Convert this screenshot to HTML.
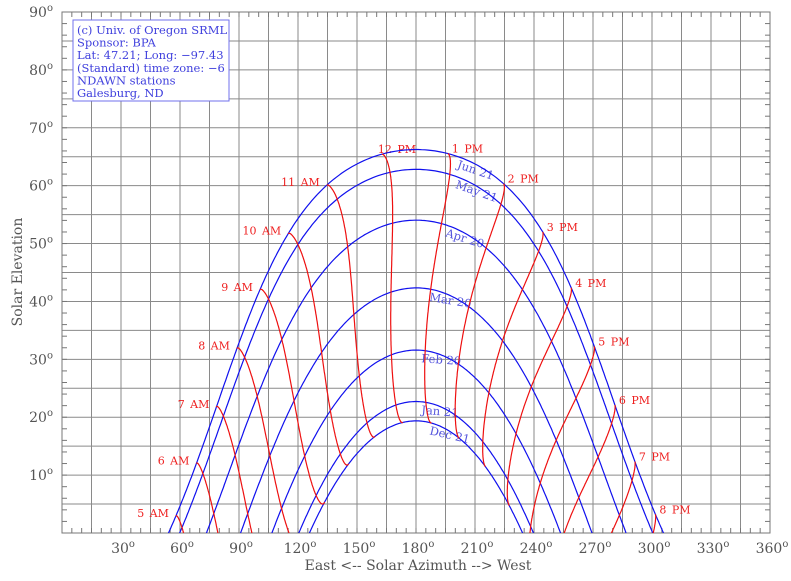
<!DOCTYPE html>
<html><head><meta charset="utf-8">
<style>
html,body{margin:0;padding:0;background:#fff;overflow:hidden;width:791px;height:581px;}
svg{display:block;font-family:"DejaVu Serif","Liberation Serif",serif;}
</style></head>
<body>
<svg id="s" width="791" height="581" xmlns="http://www.w3.org/2000/svg"></svg>
<script>
var S=document.getElementById('s');
var L=62,R=770,T=12,B=533;
function X(a){return L+(R-L)*a/360;}
function Y(e){return B-(B-T)*e/90;}
var h='';
h+='<defs><clipPath id="c"><rect x="'+L+'" y="'+T+'" width="'+(R-L)+'" height="'+(B-T)+'"/></clipPath></defs>';
for(var a=15;a<360;a+=15){h+='<line x1="'+X(a)+'" y1="'+T+'" x2="'+X(a)+'" y2="'+B+'" stroke="#8a8a8a" stroke-width="1"/>';}
for(var e=5;e<90;e+=5){h+='<line x1="'+L+'" y1="'+Y(e)+'" x2="'+R+'" y2="'+Y(e)+'" stroke="#8a8a8a" stroke-width="1"/>';}
for(var a=5;a<360;a+=5){h+='<line x1="'+X(a)+'" y1="'+B+'" x2="'+X(a)+'" y2="'+(B-5)+'" stroke="#777"/><line x1="'+X(a)+'" y1="'+T+'" x2="'+X(a)+'" y2="'+(T+5)+'" stroke="#777"/>';}
for(var e=2;e<90;e+=2){h+='<line x1="'+L+'" y1="'+Y(e)+'" x2="'+(L+5)+'" y2="'+Y(e)+'" stroke="#777"/><line x1="'+R+'" y1="'+Y(e)+'" x2="'+(R-5)+'" y2="'+Y(e)+'" stroke="#777"/>';}
h+='<rect x="'+L+'" y="'+T+'" width="'+(R-L)+'" height="'+(B-T)+'" fill="none" stroke="#777" stroke-width="1"/>';
for(var e=10;e<=90;e+=10){h+='<text x="53" y="'+(Y(e)+5)+'" font-size="14" fill="#555" text-anchor="end">'+e+'<tspan font-size="10" dy="-6">o</tspan></text>';}
for(var a=30;a<=360;a+=30){h+='<text x="'+(X(a)+2)+'" y="553" font-size="14" fill="#555" text-anchor="middle">'+a+'<tspan font-size="10" dy="-6">o</tspan></text>';}
h+='<text x="418" y="570" font-size="14" fill="#555" text-anchor="middle">East &lt;-- Solar Azimuth --&gt; West</text>';
h+='<text transform="translate(22,272) rotate(-90)" font-size="14" fill="#555" text-anchor="middle">Solar Elevation</text>';
var lat=47.21*Math.PI/180, lon=-97.43, tz=-6, D=Math.PI/180;
function sun(doy,hr){
 var g=2*Math.PI/365*(doy-1+(hr-12)/24);
 var eq=229.18*(0.000075+0.001868*Math.cos(g)-0.032077*Math.sin(g)-0.014615*Math.cos(2*g)-0.040849*Math.sin(2*g));
 var d=0.006918-0.399912*Math.cos(g)+0.070257*Math.sin(g)-0.006758*Math.cos(2*g)+0.000907*Math.sin(2*g)-0.002697*Math.cos(3*g)+0.00148*Math.sin(3*g);
 var tst=hr*60+eq+4*lon-60*tz;
 var ha=(tst/4-180)*D;
 var ce=Math.sin(lat)*Math.sin(d)+Math.cos(lat)*Math.cos(d)*Math.cos(ha);
 var el=Math.asin(ce)/D;
 var az=Math.atan2(Math.sin(ha),Math.cos(ha)*Math.sin(lat)-Math.tan(d)*Math.cos(lat))/D+180;
 return [az,el];
}
var g='';
var dates=[[355,'Dec 21',186],[21,'Jan 21',182],[51,'Feb 20',182],[79,'Mar 20',186],[110,'Apr 20',194],[141,'May 21',199],[172,'Jun 21',200]];
dates.forEach(function(dd){
 var pts=[];
 for(var t=2;t<=23;t+=0.05){var p=sun(dd[0],t);if(p[1]>-8)pts.push(X(p[0]).toFixed(1)+','+Y(p[1]).toFixed(1));}
 g+='<polyline points="'+pts.join(' ')+'" fill="none" stroke="#1010ee" stroke-width="1.2"/>';
 var best=null;
 for(var t=10;t<=17;t+=0.01){var p=sun(dd[0],t);if(p[0]>=dd[2]){best=t;break;}}
 var p1=sun(dd[0],best),p2=sun(dd[0],best+0.05);
 var ang=Math.atan2(Y(p2[1])-Y(p1[1]),X(p2[0])-X(p1[0]))/D;
 h+='<text transform="translate('+(X(p1[0])+1).toFixed(1)+','+(Y(p1[1])+12).toFixed(1)+') rotate('+ang.toFixed(1)+')" font-size="11.5" fill="#5555dd">'+dd[1]+'</text>';
});
for(var hr=5;hr<=20;hr++){
 var pts=[];
 for(var day=355;day<=537;day+=1){var dy=day>365?day-365:day;var p=sun(dy,hr);pts.push(X(p[0]).toFixed(1)+','+Y(p[1]).toFixed(1));}
 g+='<polyline points="'+pts.join(' ')+'" fill="none" stroke="#ee1010" stroke-width="1.2"/>';
 var p=sun(172,hr),px=X(p[0]),py=Y(p[1]);
 var lab=(hr<12?hr+' AM':(hr==12?'12 PM':(hr-12)+' PM'));
 if(hr<12)h+='<text x="'+(px-7).toFixed(1)+'" y="'+(py+1).toFixed(1)+'" font-size="11" fill="#ee2020" text-anchor="end" word-spacing="2">'+lab+'</text>';
 else if(hr==12)h+='<text x="'+(px-4).toFixed(1)+'" y="'+(py-1).toFixed(1)+'" font-size="11" fill="#ee2020" word-spacing="2">'+lab+'</text>';
 else h+='<text x="'+(px+4).toFixed(1)+'" y="'+(py-1).toFixed(1)+'" font-size="11" fill="#ee2020" word-spacing="2">'+lab+'</text>';
}
h+='<g clip-path="url(#c)">'+g+'</g>';
h+='<rect x="73" y="20" width="156" height="81" fill="#fff" stroke="#7070ee" stroke-width="1"/>';
var info=['(c) Univ. of Oregon SRML','Sponsor: BPA','Lat: 47.21; Long: \u221297.43','(Standard) time zone: \u22126','NDAWN stations','Galesburg, ND'];
info.forEach(function(t,i){h+='<text x="77" y="'+(34+i*12.6).toFixed(1)+'" font-size="11.5" fill="#4040dd">'+t+'</text>';});
S.innerHTML=h;
</script>
</body></html>
